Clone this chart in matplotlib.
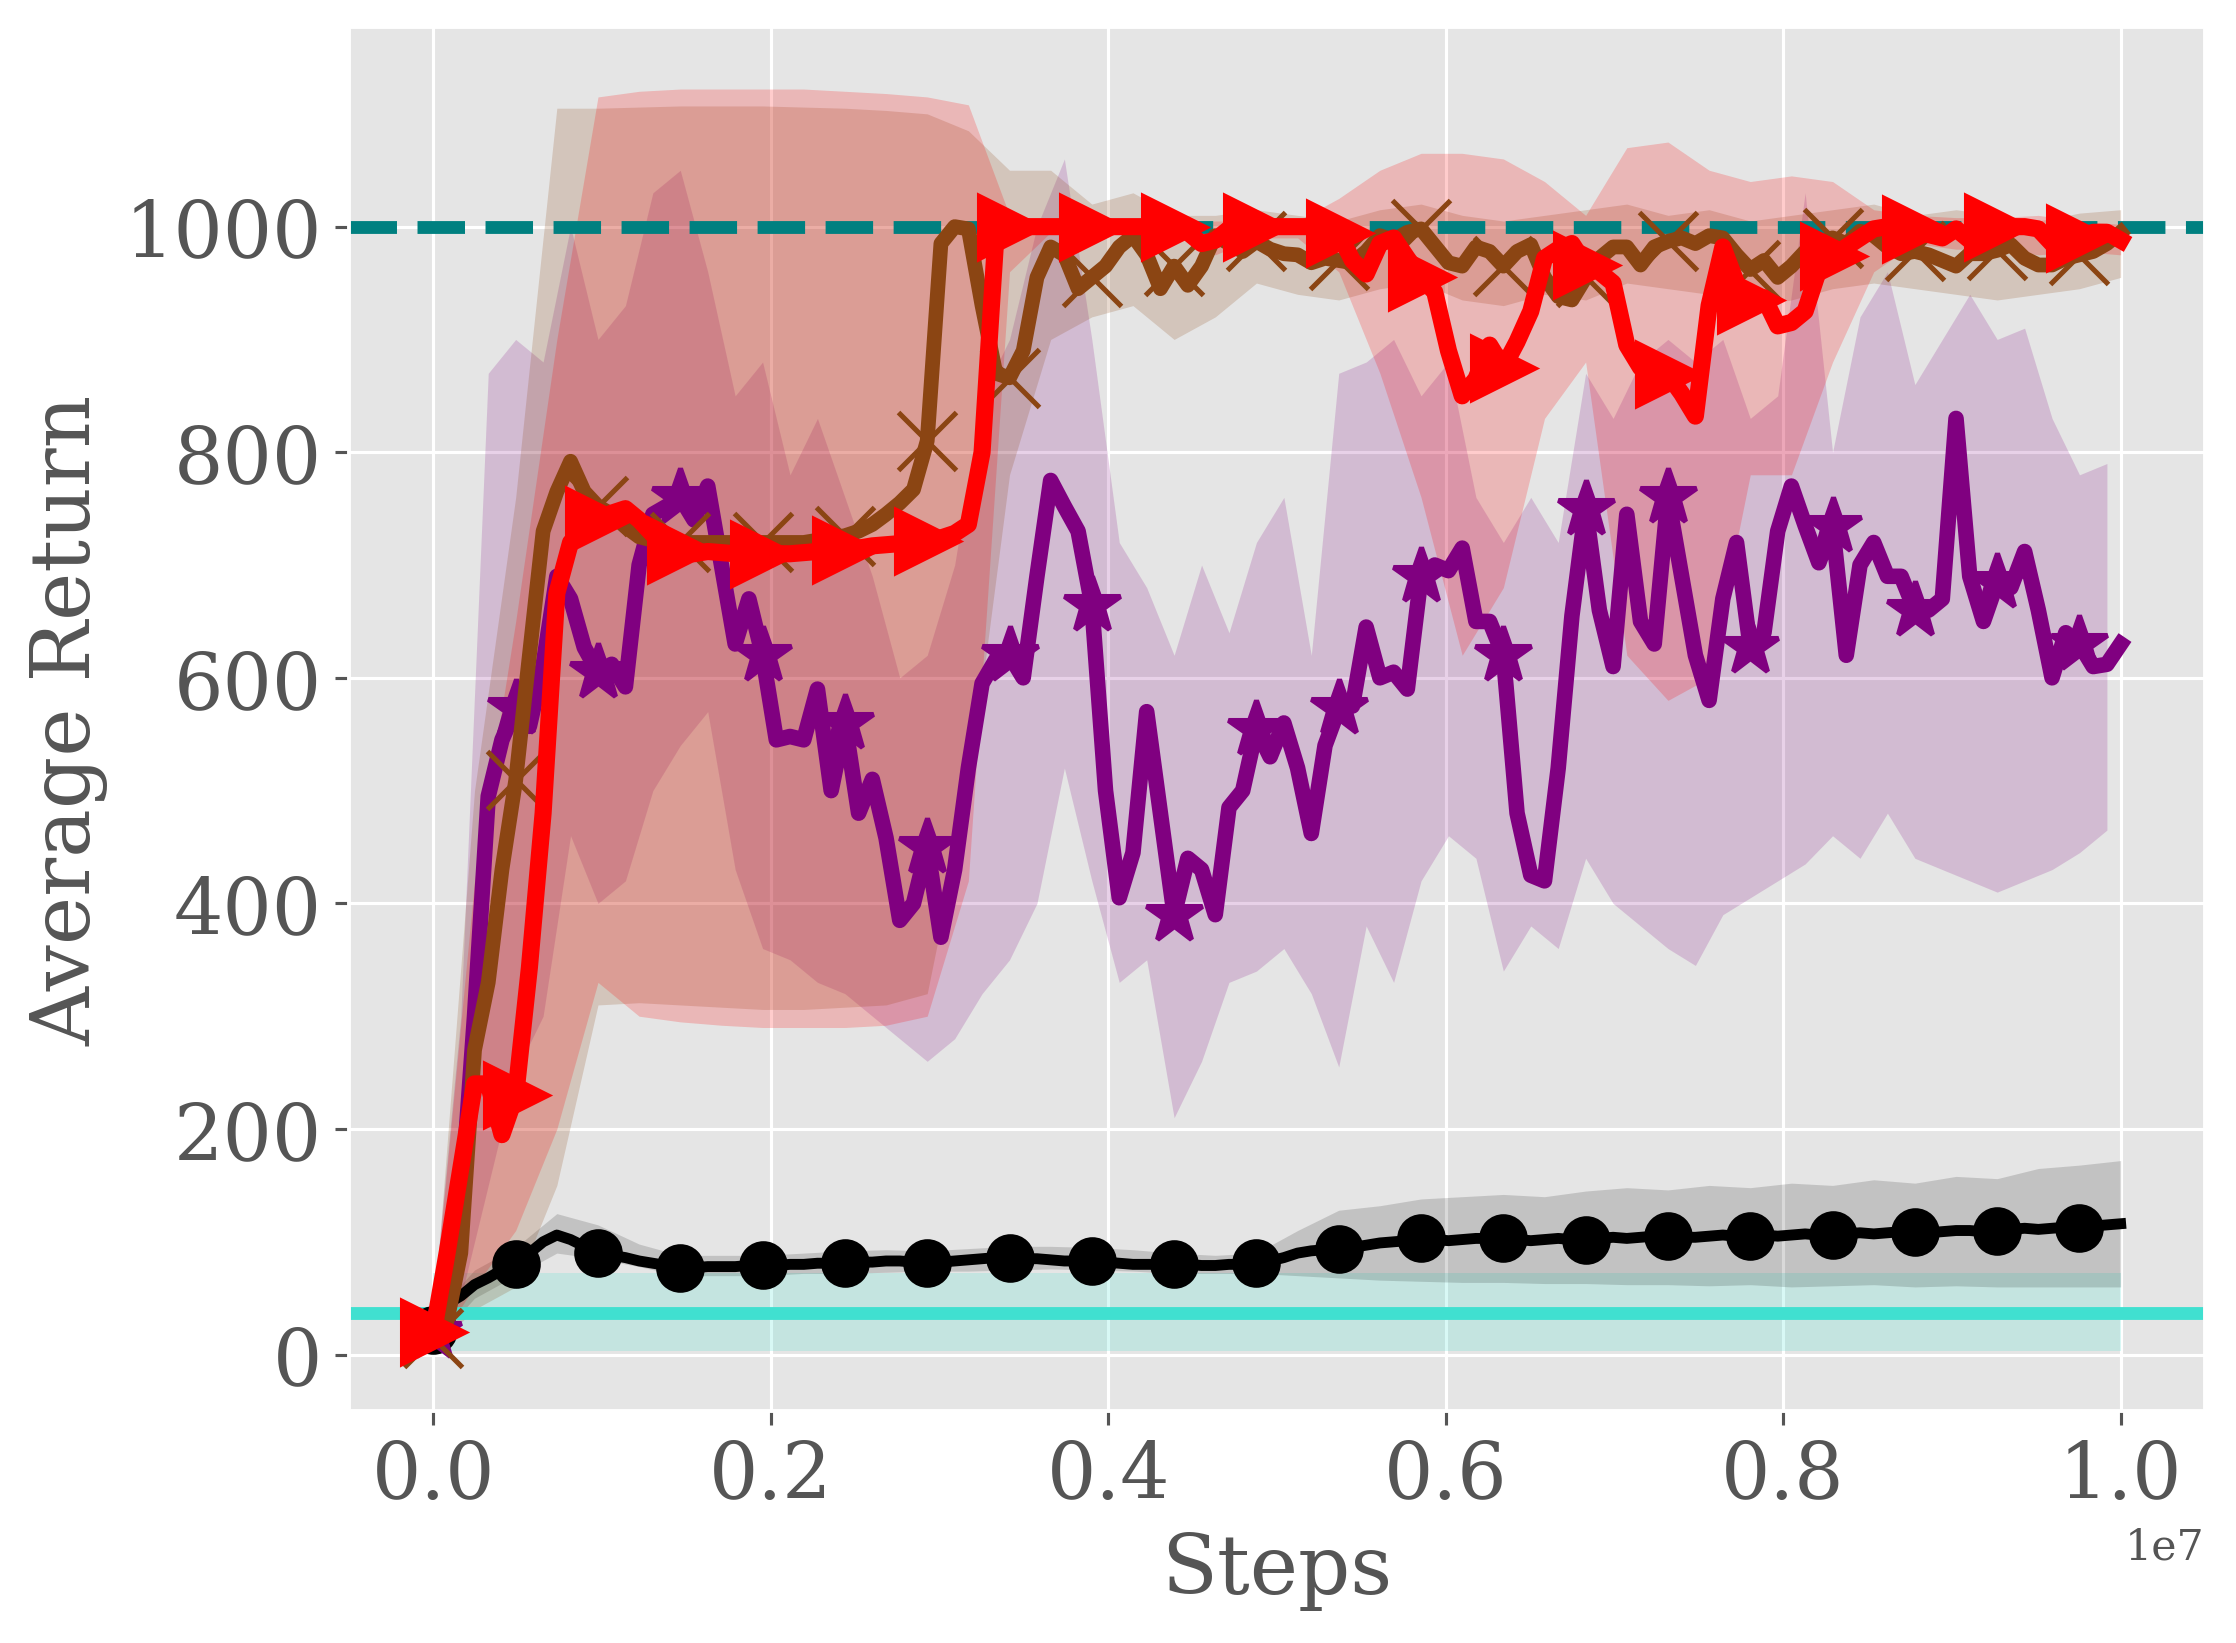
import numpy as np
import matplotlib
matplotlib.use("Agg")
import matplotlib.pyplot as plt

# %%
# mean curves, one value per eval point (124 points over 1e7 steps)
n_pts = 124
steps = np.linspace(0, 1e7, n_pts)

purple_mean = [
    20, 60, 130, 300, 495, 545, 573, 557, 611, 690, 670, 627, 605, 612, 592, 700, 745, 752, 760, 740,
    770, 700, 630, 670, 620, 545, 548, 545, 590, 500, 560, 480, 510, 458, 385, 400, 450, 370, 430, 520,
    595, 616, 620, 600, 690, 775, 752, 730, 665, 500, 405, 445, 570, 480, 390, 440, 430, 390, 485, 500,
    555, 530, 560, 520, 462, 540, 573, 575, 645, 600, 605, 590, 690, 700, 695, 715, 650, 650, 620, 480,
    425, 420, 520, 655, 750, 660, 610, 745, 650, 630, 760, 690, 620, 580, 670, 720, 627, 640, 730, 770,
    735, 702, 735, 620, 700, 720, 690, 690, 660, 660, 670, 830, 690, 650, 685, 680, 712, 660, 600, 640,
    630, 610, 612, 630,
]
brown_mean = [
    15, 30, 90, 270, 330, 430, 509, 620, 730, 765, 792, 765, 752, 745, 734, 725, 722, 720, 720, 720,
    720, 720, 720, 720, 720, 720, 720, 720, 722, 724, 726, 730, 736, 745, 755, 767, 810, 985, 1000, 998,
    930, 870, 866, 890, 955, 982, 975, 945, 955, 965, 982, 992, 975, 945, 965, 948, 965, 992, 985, 978,
    987, 980, 976, 975, 968, 972, 970, 968, 978, 992, 988, 995, 998, 983, 968, 965, 982, 978, 965, 978,
    984, 955, 938, 935, 955, 972, 982, 982, 966, 982, 987, 990, 985, 992, 990, 975, 962, 970, 955, 965,
    978, 985, 990, 985, 996, 992, 982, 976, 978, 975, 970, 965, 976, 976, 979, 984, 972, 966, 966, 972,
    975, 978, 985, 995,
]
red_mean = [
    20, 90, 165, 240, 240, 195, 230, 343, 480, 675, 720, 732, 740, 746, 750, 740, 727, 718, 713, 710,
    712, 711, 710, 710, 710, 710, 710, 711, 712, 713, 713, 715, 717, 718, 719, 720, 721, 724, 728, 736,
    800, 990, 1000, 1000, 1000, 1000, 1000, 1000, 1000, 1000, 1000, 1000, 1000, 1000, 1000, 995, 985, 988, 998, 1000,
    1000, 1000, 1000, 1000, 1000, 998, 994, 970, 958, 985, 990, 972, 955, 942, 890, 850, 865, 895, 875, 898,
    925, 972, 980, 985, 966, 960, 950, 895, 875, 870, 869, 852, 832, 930, 982, 950, 935, 937, 912, 915,
    925, 962, 974, 982, 990, 998, 1000, 995, 998, 993, 990, 998, 988, 998, 1000, 1000, 1000, 998, 985, 983,
    990, 995, 995, 988,
]
black_mean = [
    22, 45, 52, 62, 68, 75, 80, 90, 100, 106, 102, 96, 90, 88, 86, 83, 81, 79, 77, 77,
    78, 78, 78, 79, 79, 79, 80, 80, 81, 81, 81, 82, 82, 83, 83, 82, 81, 82, 83, 84,
    85, 86, 86, 85, 85, 84, 83, 83, 83, 82, 81, 80, 80, 80, 80, 80, 79, 79, 80, 80,
    81, 83, 86, 90, 92, 93, 94, 95, 97, 99, 100, 101, 103, 102, 101, 102, 103, 103, 103, 102,
    101, 102, 103, 102, 102, 103, 104, 103, 104, 105, 105, 104, 104, 105, 106, 105, 105, 106, 105, 106,
    107, 106, 106, 107, 108, 107, 108, 109, 109, 108, 109, 110, 110, 109, 110, 111, 112, 111, 112, 113,
    112, 114, 115, 116,
]

# %%
# shaded bands: purple every 2nd eval point, the others every 3rd
purple_band_steps = steps[::2]
band_steps = steps[::3]

purple_lo = [5, 50, 150, 250, 300, 460, 400, 420, 500, 540, 570, 430, 360, 350, 330, 320, 300, 280, 260, 280,
             320, 350, 400, 520, 420, 330, 350, 210, 260, 330, 340, 360, 320, 255, 380, 330, 420, 460, 440, 340,
             380, 360, 440, 400, 380, 360, 345, 390, 405, 420, 435, 460, 440, 480, 440, 430, 420, 410, 420, 430,
             445, 465]
purple_hi = [45, 300, 870, 900, 880, 1000, 900, 930, 1030, 1050, 960, 850, 880, 780, 830, 760, 690, 600, 620, 700,
             850, 900, 1000, 1060, 900, 720, 680, 620, 700, 640, 720, 760, 620, 870, 880, 900, 850, 880, 760, 720,
             760, 720, 870, 830, 880, 900, 880, 900, 830, 850, 1030, 800, 920, 960, 860, 900, 940, 900, 910, 830,
             780, 790]
red_lo = [5, 60, 110, 200, 330, 300, 295, 292, 290, 290, 290, 292, 300, 420, 960, 995, 995, 995, 995, 975, 990,
          990, 960, 870, 760, 620, 680, 830, 880, 620, 580, 600, 780, 780, 880, 960, 985, 980, 980, 975, 978, 975]
red_hi = [40, 420, 650, 900, 1115, 1120, 1122, 1122, 1122, 1122, 1120, 1118, 1115, 1108, 1010, 1003, 1003, 1003, 1003, 1005, 1005,
          1005, 1025, 1050, 1065, 1065, 1060, 1040, 1010, 1070, 1075, 1050, 1040, 1045, 1040, 1015, 1010, 1008, 1008, 1010, 1005, 1002]
brown_lo = [5, 40, 60, 150, 310, 312, 310, 308, 306, 306, 308, 310, 320, 500, 780, 900, 920, 930, 900, 920, 950,
            940, 935, 945, 950, 935, 930, 940, 935, 950, 945, 940, 930, 935, 945, 950, 945, 940, 935, 940, 945, 955]
brown_hi = [30, 500, 760, 1105, 1105, 1106, 1107, 1107, 1107, 1106, 1105, 1103, 1100, 1085, 1050, 1050, 1020, 1030, 1010, 1010, 1015,
            1010, 1005, 1015, 1020, 1010, 1005, 1010, 1015, 1020, 1010, 1015, 1005, 1010, 1015, 1020, 1010, 1015, 1010, 1005, 1012, 1015]
black_lo = [10, 50, 70, 90, 85, 78, 70, 70, 70, 72, 72, 73, 74, 74, 75, 76, 75, 74, 72, 72, 72,
            70, 68, 66, 65, 64, 64, 63, 63, 62, 62, 61, 62, 60, 61, 62, 60, 61, 60, 60, 60, 60]
black_hi = [35, 75, 95, 125, 115, 98, 88, 88, 88, 90, 92, 93, 92, 94, 96, 96, 95, 93, 90, 88, 90,
            110, 128, 132, 138, 140, 142, 140, 145, 148, 146, 150, 148, 152, 150, 155, 152, 158, 156, 165, 168, 172]

# reference levels
expert_level = 1000
random_level = 37
random_lo = 3
random_hi = 72
random_steps = [0, 1e7]

# %%
plt.style.use("ggplot")
plt.rcParams["font.family"] = "serif"
plt.rcParams["font.serif"] = ["DejaVu Serif"]

fig = plt.figure(figsize=(2236 / 280, 1644 / 280), dpi=280)
ax = fig.add_axes([349 / 2236, 1 - 1412 / 1644, (2205 - 349) / 2236, (1412 - 28) / 1644])

ax.axhline(expert_level, color="teal", linestyle="--", linewidth=3.3)
ax.fill_between(random_steps, random_lo, random_hi, color="turquoise", alpha=0.2, linewidth=0)
ax.axhline(random_level, color="turquoise", linewidth=3.3)

series = [
    (purple_band_steps, purple_mean, purple_lo, purple_hi, "purple", "*", 15, 4.0, 0.18),
    (band_steps, brown_mean, brown_lo, brown_hi, "saddlebrown", "x", 15, 3.8, 0.2),
    (band_steps, red_mean, red_lo, red_hi, "red", ">", 16, 4.4, 0.2),
]
ax.fill_between(band_steps, black_lo, black_hi, color="black", alpha=0.15, linewidth=0)
ax.plot(steps, black_mean, color="black", linewidth=2.8, marker="o", markersize=11.5, markevery=6)
for bx, mean, lo, hi, col, mk, ms, lw, a in series:
    ax.fill_between(bx, lo, hi, color=col, alpha=a, linewidth=0)
for bx, mean, lo, hi, col, mk, ms, lw, a in series:
    ax.plot(steps, mean, color=col, linewidth=lw, marker=mk, markersize=ms,
            markevery=6, markeredgewidth=1.3)

ax.set_ylim(-50, 1177)
ax.set_xlabel("Steps", fontsize=21)
ax.set_ylabel("Average Return", fontsize=21)
ax.tick_params(labelsize=20)
ax.xaxis.get_offset_text().set_fontsize(11)

fig.savefig("out.png", dpi=280)
